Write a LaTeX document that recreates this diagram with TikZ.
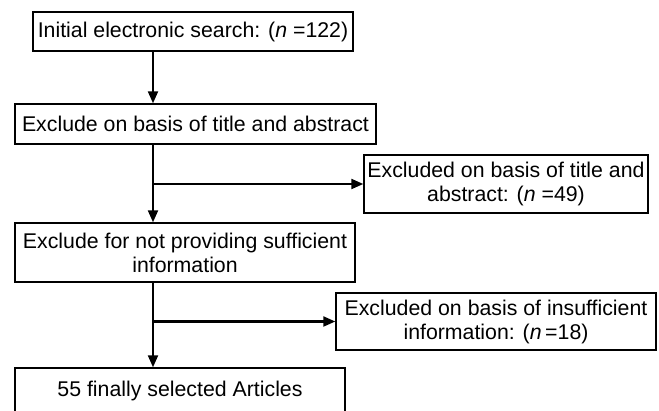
\documentclass[tikz,border=0pt]{standalone}
\usepackage{fontspec}
\setmainfont{Liberation Sans}
\usetikzlibrary{arrows.meta}

\tikzset{
  stage/.style={draw, line width=1.4pt, inner sep=2pt, align=center,
    font=\fontsize{21.3}{24}\selectfont},
  arr/.style={line width=2.1pt, -{Triangle[length=12pt,width=10pt]}}
}

\begin{document}
\begin{tikzpicture}[x=1pt,y=-1pt]

\clip (0,0) rectangle (659,411);
\fill[white] (0,0) rectangle (659,411);

% Draw the main stages
\node[stage, minimum width=320pt, minimum height=39pt] (search) at (193,31.5)
  {Initial electronic search: (\textit{n} =122)};
\node[stage, minimum width=361pt, minimum height=40pt] (title) at (195.5,124)
  {Exclude on basis of title and abstract};
\node[stage, minimum width=340pt, minimum height=59pt] (info) at (185,252.5)
  {Exclude for not providing sufficient\\information};
\node[stage, minimum width=330pt, minimum height=46pt] (final) at (180,391)
  {55 finally selected Articles};

% Draw the excluded boxes
\node[stage, minimum width=284pt, minimum height=58pt] (excltitle) at (506,184)
  {Excluded on basis of title and\\abstract: (\textit{n} =49)};
\node[stage, minimum width=320pt, minimum height=57pt] (exclinfo) at (496,321.5)
  {Excluded on basis of insufficient\\information: (\textit{n}\,=18)};

% Vertical flow
\coordinate (spine) at (153,0);
\draw[arr] (search.south -| spine) -- (title.north -| spine);
\draw[arr] (title.south -| spine) -- (info.north -| spine);
\draw[arr] (info.south -| spine) -- (final.north -| spine);

% Branches to the excluded boxes
\draw[arr] (excltitle.west -| spine) -- (excltitle.west);
\draw[arr] (exclinfo.west -| spine) -- (exclinfo.west);
\end{tikzpicture}
\end{document}
